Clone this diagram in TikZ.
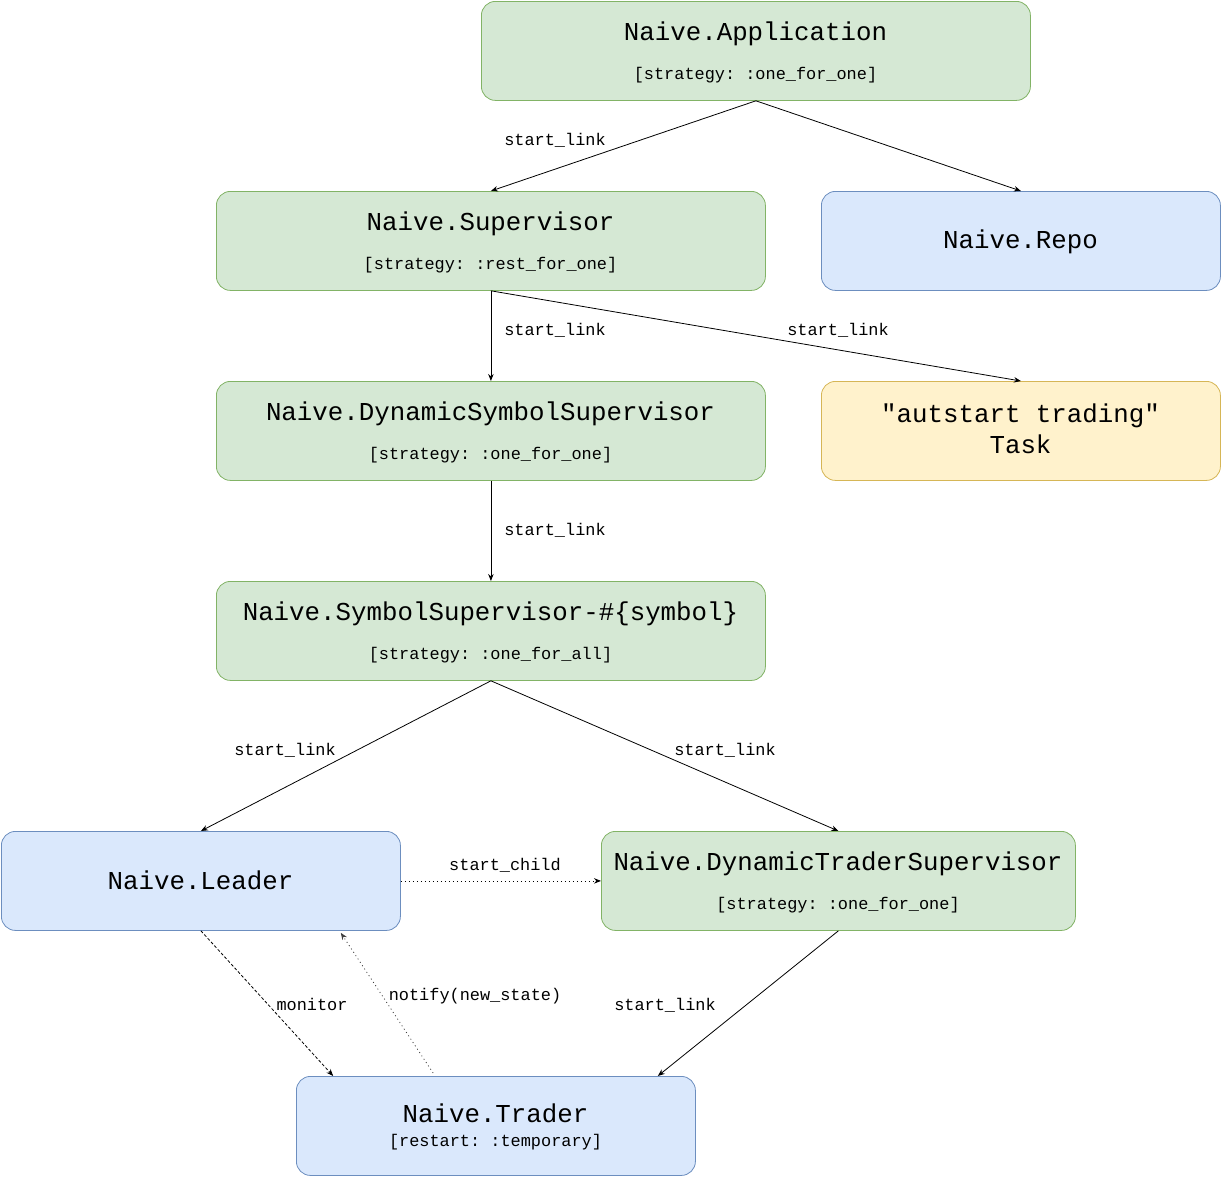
\documentclass[tikz,border=0pt]{standalone}
\usepackage{fontspec}
\newfontfamily\mono{Liberation Mono}
\usetikzlibrary{arrows.meta,calc}
\definecolor{gfill}{HTML}{D5E8D4}\definecolor{gdraw}{HTML}{82B366}
\definecolor{bfill}{HTML}{DAE8FC}\definecolor{bdraw}{HTML}{6C8EBF}
\definecolor{yfill}{HTML}{FFF2CC}\definecolor{ydraw}{HTML}{D6B656}
\frenchspacing
\begin{document}
\begin{tikzpicture}[x=1pt,y=-1pt,
  box/.style={rectangle,rounded corners=14pt,line width=0.8pt,inner sep=0pt,anchor=north west},
  gbox/.style={box,fill=gfill,draw=gdraw},
  bbox/.style={box,fill=bfill,draw=bdraw},
  ybox/.style={box,fill=yfill,draw=ydraw},
  big/.style={inner sep=0pt,anchor=base,font=\mono\frenchspacing\fontsize{25.8}{30}\selectfont},
  small/.style={inner sep=0pt,anchor=base,font=\mono\frenchspacing\fontsize{16.9}{20}\selectfont},
  lbl/.style={inner sep=0pt,anchor=base,font=\mono\frenchspacing\fontsize{16.9}{20}\selectfont},
  conn/.style={line width=0.8pt,-{Stealth[length=7pt,width=5.5pt]}},
  dotconn/.style={conn,dash pattern=on 1.5pt off 2.5pt},
  lightdot/.style={conn,dash pattern=on 1pt off 3pt,draw=black!75},
  dashconn/.style={conn,dash pattern=on 3pt off 2pt}]
\useasboundingbox (0,0) rectangle (1221,1176);
% boxes
\node[gbox,minimum width=549pt,minimum height=99pt] (app) at (481,1) {};
\node[gbox,minimum width=549pt,minimum height=99pt] (sup) at (216,191) {};
\node[bbox,minimum width=399pt,minimum height=99pt] (repo) at (821,191) {};
\node[gbox,minimum width=549pt,minimum height=99pt] (dss) at (216,381) {};
\node[ybox,minimum width=399pt,minimum height=99pt] (task) at (821,381) {};
\node[gbox,minimum width=549pt,minimum height=99pt] (ss) at (216,581) {};
\node[bbox,minimum width=399pt,minimum height=99pt] (leader) at (1,831) {};
\node[gbox,minimum width=474pt,minimum height=99pt] (dts) at (601,831) {};
\node[bbox,minimum width=399pt,minimum height=99pt] (trader) at (296,1076) {};
% texts
\node[big] (appt) at (755.5,40) {Naive.Application};
\node[small] (apps) at (755.5,79) {[strategy: :one\_for\_one]};
\node[big] (supt) at (490.5,230) {Naive.Supervisor};
\node[small] (sups) at (490.5,269) {[strategy: :rest\_for\_one]};
\node[big] (repot) at (1020.5,248.5) {Naive.Repo};
\node[big] (dsst) at (490.5,420) {Naive.DynamicSymbolSupervisor};
\node[small] (dsss) at (490.5,459) {[strategy: :one\_for\_one]};
\node[big] (taskt1) at (1020.5,422) {"autstart trading"};
\node[big] (taskt2) at (1020.5,453) {Task};
\node[big] (sst) at (490.5,620) {Naive.SymbolSupervisor-\#\{symbol\}};
\node[small] (sss) at (490.5,659) {[strategy: :one\_for\_all]};
\node[big] (leadert) at (200.5,889) {Naive.Leader};
\node[big] (dtst) at (838,870) {Naive.DynamicTraderSupervisor};
\node[small] (dtss) at (838,909) {[strategy: :one\_for\_one]};
\node[big] (tradert) at (495.5,1122.5) {Naive.Trader};
\node[small] (traders) at (495.5,1146) {[restart: :temporary]};
% connectors
\draw[conn] (app.south) -- (sup.north);
\draw[conn] (app.south) -- (repo.north);
\draw[conn] (sup.south) -- (dss.north);
\draw[conn] (sup.south) -- (task.north);
\draw[conn] (dss.south) -- (ss.north);
\draw[conn] (ss.south) -- (leader.north);
\draw[conn] (ss.south) -- (dts.north);
\draw[dotconn] (leader.east) -- (dts.west);
\coordinate (trmon) at ($(trader.north west)!0.093!(trader.north east)$);
\coordinate (trnot) at ($(trader.north west)!0.343!(trader.north east)+(0,-3)$);
\coordinate (trdts) at ($(trader.north west)!0.905!(trader.north east)$);
\coordinate (ldnot) at ($(leader.south west)!0.85!(leader.south east)+(0,2)$);
\draw[dashconn] (leader.south) -- (trmon);
\draw[lightdot] (trnot) -- (ldnot);
\draw[conn] (dts.south) -- (trdts);
% labels
\node[lbl] (l1) at (555,145) {start\_link};
\node[lbl] (l2) at (555,335) {start\_link};
\node[lbl] (l3) at (838,335) {start\_link};
\node[lbl] (l4) at (555,535) {start\_link};
\node[lbl] (l5) at (285,755) {start\_link};
\node[lbl] (l6) at (725,755) {start\_link};
\node[lbl] (l7) at (505,870) {start\_child};
\node[lbl] (l8) at (312,1010) {monitor};
\node[lbl] (l9) at (475,1000) {notify(new\_state)};
\node[lbl] (l10) at (665,1010) {start\_link};
\end{tikzpicture}
\end{document}
